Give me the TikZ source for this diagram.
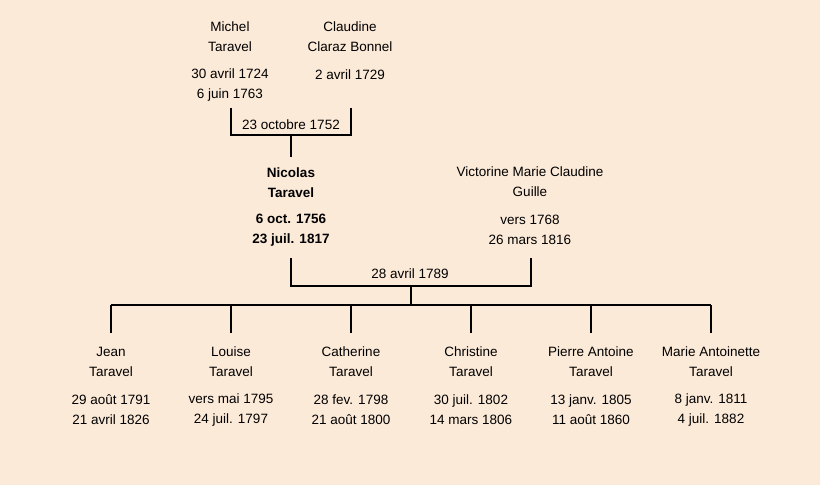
\documentclass[tikz,border=0pt]{standalone}
\usepackage{fontspec}
\setmainfont{Liberation Sans}
\usepackage{tikz}
\definecolor{paper}{RGB}{252,234,216}

\begin{document}
\begin{tikzpicture}
[
  x=1pt, y=-1pt,
  who/.style={align=center,inner sep=0pt,font=\fontsize{13.5}{20}\selectfont},
  main/.style={who,font=\fontsize{13.5}{20}\selectfont\bfseries},
  wed/.style={inner sep=0pt,font=\fontsize{13.5}{20}\selectfont},
  link/.style={line width=2pt}
]

\fill[paper] (0,0) rectangle (820,485);
\useasboundingbox (0,0) rectangle (820,485);

\node[who] (michel) at (230,37) {Michel\\Taravel};
\node[who] (michelD) at (230,85) {30 avril 1724\\6 juin 1763};
\node[who] (claudine) at (350,37) {Claudine\\Claraz Bonnel};
\node[who] (claudineD) at (350,75) {2 avril 1729};

\coordinate (m1) at (231,108);
\coordinate (c1) at (351,108);
\coordinate (w1) at (291,135);
\coordinate (n1) at (291,157);
\node[wed] (wed1) at (291,125) {23 octobre 1752};

\node[main] (nicolas) at (291,183) {Nicolas\\Taravel};
\node[main] (nicolasD) at (291,230) {6 oct. 1756\\23 juil. 1817};
\node[who] (victorine) at (530,182) {Victorine Marie Claudine\\Guille};
\node[who] (victorineD) at (530,230) {vers 1768\\26 mars 1816};

\coordinate (n2) at (291,258);
\coordinate (v2) at (531,258);
\coordinate (w2) at (411,286);
\coordinate (k) at (411,305);
\node[wed] (wed2) at (410,274) {28 avril 1789};

\coordinate (jeanT) at (111,305);
\coordinate (louiseT) at (231,305);
\coordinate (catherineT) at (351,305);
\coordinate (christineT) at (471,305);
\coordinate (pierreT) at (591,305);
\coordinate (marieT) at (711,305);

\node[who] (jean) at (111,362) {Jean\\Taravel};
\node[who] (jeanD) at (111,410) {29 août 1791\\21 avril 1826};

\node[who] (louise) at (231,362) {Louise\\Taravel};
\node[who] (louiseD) at (231,410) {vers mai 1795\\24 juil. 1797};

\node[who] (catherine) at (351,362) {Catherine\\Taravel};
\node[who] (catherineD) at (351,410) {28 fev. 1798\\21 août 1800};

\node[who] (christine) at (471,362) {Christine\\Taravel};
\node[who] (christineD) at (471,410) {30 juil. 1802\\14 mars 1806};

\node[who] (pierre) at (591,362) {Pierre Antoine\\Taravel};
\node[who] (pierreD) at (591,410) {13 janv. 1805\\11 août 1860};

\node[who] (marie) at (711,362) {Marie Antoinette\\Taravel};
\node[who] (marieD) at (711,410) {8 janv. 1811\\4 juil. 1882};

% marriages
\draw[link] (m1) |- (w1) -| (c1);
\draw[link] (w1) -- (n1);
\draw[link] (n2) |- (w2) -| (v2);
\draw[link] (w2) -- (k);

% children
\draw[link] (jeanT) -- (marieT);
\draw[link] (jeanT) -- ++(0,28);
\draw[link] (louiseT) -- ++(0,28);
\draw[link] (catherineT) -- ++(0,28);
\draw[link] (christineT) -- ++(0,28);
\draw[link] (pierreT) -- ++(0,28);
\draw[link] (marieT) -- ++(0,28);

\end{tikzpicture}
\end{document}
